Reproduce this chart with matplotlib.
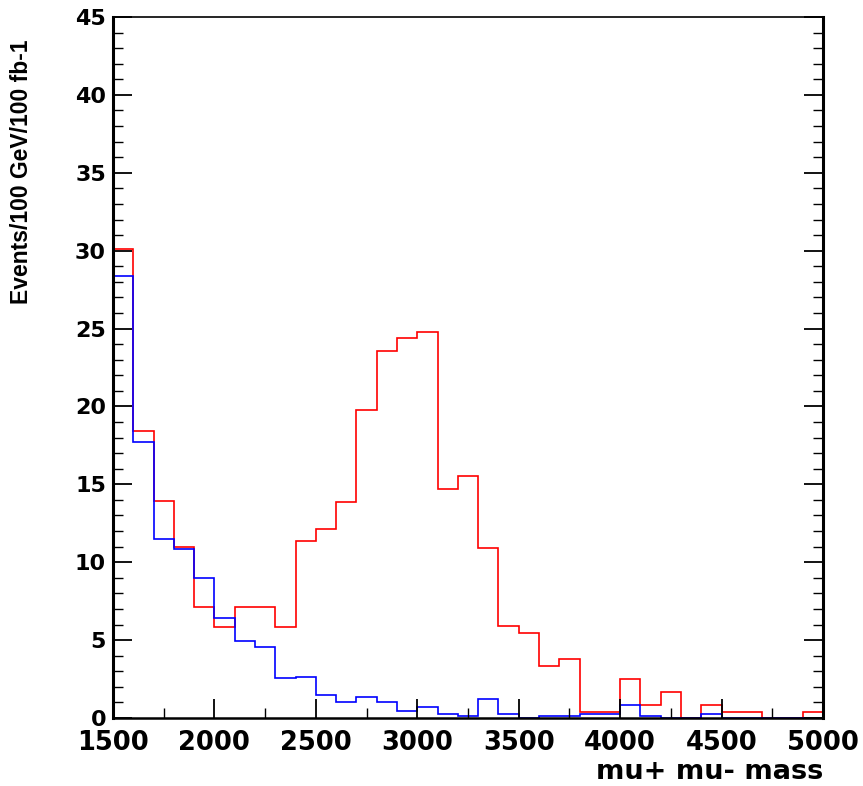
import numpy as np
import matplotlib
matplotlib.use("Agg")
import matplotlib.pyplot as plt
from matplotlib.ticker import MultipleLocator

# 100 GeV bins from 1500 to 5000
bin_edges = np.arange(1500, 5001, 100)

signal_plus_bkg = [30.1, 18.45, 13.9, 10.95, 7.1, 5.85, 7.12, 7.12, 5.86, 11.34,
                   12.15, 13.86, 19.77, 23.56, 24.39, 24.8, 14.72, 15.55, 10.9, 5.9,
                   5.45, 3.36, 3.76, 0.4, 0.4, 2.48, 0.83, 1.67, 0.0, 0.83,
                   0.4, 0.4, 0.0, 0.0, 0.4]

background = [28.4, 17.7, 11.5, 10.83, 9.0, 6.44, 4.92, 4.58, 2.55, 2.61,
              1.48, 1.05, 1.35, 1.05, 0.45, 0.73, 0.28, 0.13, 1.24, 0.28,
              0.02, 0.1, 0.1, 0.28, 0.28, 0.81, 0.1, 0.0, 0.0, 0.28,
              0.0, 0.0, 0.0, 0.0, 0.0]

x_label = "mu+ mu- mass"
y_label = "Events/100 GeV/100 fb-1"

fig = plt.figure(figsize=(8.63, 7.86), dpi=100)
ax = fig.add_axes([113/863, 1 - 718/786, (823 - 113)/863, (718 - 17)/786])

ax.stairs(signal_plus_bkg, bin_edges, color="#ff0000", linewidth=1.2)
ax.stairs(background, bin_edges, color="#0000ff", linewidth=1.2)

ax.set_xlim(1500, 5000)
ax.set_ylim(0, 45)

ax.xaxis.set_major_locator(MultipleLocator(500))
ax.xaxis.set_minor_locator(MultipleLocator(250))
ax.yaxis.set_major_locator(MultipleLocator(5))
ax.yaxis.set_minor_locator(MultipleLocator(1))

ax.tick_params(axis="both", which="both", direction="in", top=False, right=True)
ax.tick_params(axis="both", which="major", length=14, width=1.3)
ax.tick_params(axis="both", which="minor", length=7, width=1.0)
ax.tick_params(axis="y", which="major", pad=5)
ax.tick_params(axis="x", which="major", pad=9)

for lab in ax.get_yticklabels():
    lab.set_fontfamily("DejaVu Sans")
    lab.set_fontweight("bold")
    lab.set_fontsize(16)
for lab in ax.get_xticklabels():
    lab.set_fontfamily("DejaVu Sans")
    lab.set_fontweight("bold")
    lab.set_fontsize(18.5)

ax.spines["left"].set_linewidth(2.2)
ax.spines["bottom"].set_linewidth(1.8)
ax.spines["right"].set_linewidth(2.2)
ax.spines["top"].set_linewidth(1.2)

fig.text(823/863, 1 - 779/786, x_label, ha="right", va="baseline",
         fontfamily="DejaVu Sans", fontweight="bold", fontsize=19.5)
fig.text(22/863, 1 - 40/786, y_label, ha="center", va="top", rotation=90,
         fontfamily="Liberation Sans", fontweight="bold", fontsize=16.5)

fig.savefig("out.png", dpi=100)
